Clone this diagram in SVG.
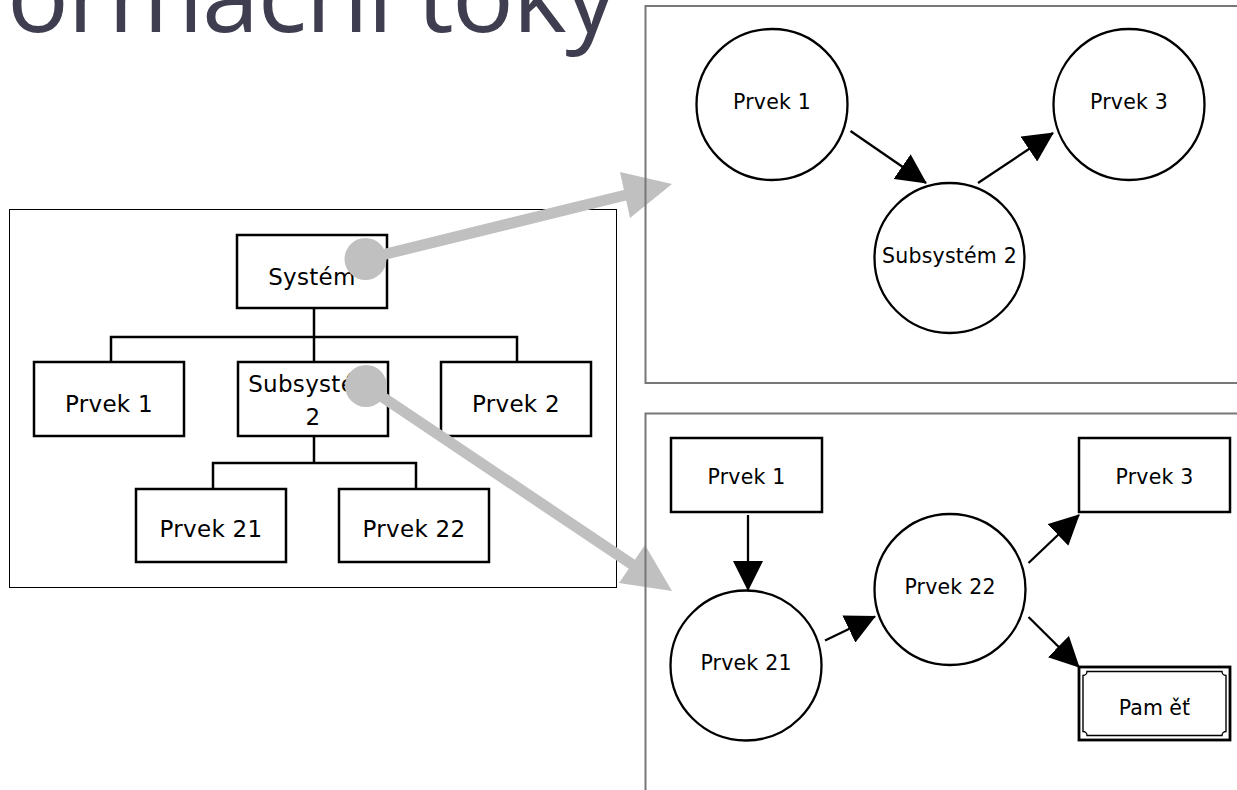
<svg xmlns="http://www.w3.org/2000/svg" width="1237" height="790" viewBox="0 0 1237 790">
<defs>
<style>
.box{fill:#fff;stroke:#000;stroke-width:2.5}
.circ{fill:#fff;stroke:#000;stroke-width:2.3}
.tl{font-family:"DejaVu Sans",Verdana,sans-serif;font-size:23px;fill:#000;text-anchor:middle;letter-spacing:0.3px}
.tr{font-family:"DejaVu Sans",Verdana,sans-serif;font-size:20.5px;fill:#000;text-anchor:middle;letter-spacing:0.2px}
.tree{fill:none;stroke:#000;stroke-width:2.5}
.arr{fill:none;stroke:#000;stroke-width:2.3}
.grey{fill:#c0c0c0;stroke:none}
.gline{stroke:#c0c0c0;stroke-width:11;fill:none}
.frameL{fill:none;stroke:#000;stroke-width:1}
.frameR{fill:none;stroke:#777;stroke-width:2}
</style>
<marker id="ah" markerUnits="userSpaceOnUse" markerWidth="30" markerHeight="30" refX="29" refY="15" orient="auto" viewBox="0 0 30 30">
<path d="M0,0 L30,15 L0,30 z" fill="#000"/>
</marker>
</defs>
<rect width="1237" height="790" fill="#fff"/>
<text x="7" y="32" font-family="'Open Sans',sans-serif" font-size="103" letter-spacing="-1.5" fill="#3e3e50">ormační toky</text>

<rect class="frameL" x="9.5" y="209.5" width="607" height="378"/>

<g id="tree-lines">
<path class="tree" d="M314,308 V337 M111,362 V337 H517 V362 M314,337 V362 M314,436 V463 M213,489 V463 H416 V489"/>
</g>
<g id="l-system"><rect class="box" x="237" y="235" width="150" height="73"/><text class="tl" x="312" y="285">Systém</text></g>
<g id="l-prvek1"><rect class="box" x="34" y="362" width="150" height="74"/><text class="tl" x="109" y="412">Prvek 1</text></g>
<g id="l-subsystem2"><rect class="box" x="238" y="362" width="150" height="74"/><text class="tl" x="313" y="392">Subsystém</text><text class="tl" x="313" y="425">2</text></g>
<g id="l-prvek2"><rect class="box" x="441" y="362" width="150" height="74"/><text class="tl" x="516" y="412">Prvek 2</text></g>
<g id="l-prvek21"><rect class="box" x="136" y="489" width="150" height="73"/><text class="tl" x="211" y="537">Prvek 21</text></g>
<g id="l-prvek22"><rect class="box" x="339" y="489" width="150" height="73"/><text class="tl" x="414" y="537">Prvek 22</text></g>

<g id="grey-arrows">
<circle class="grey" cx="365.5" cy="259" r="21"/>
<line class="gline" x1="365.5" y1="259" x2="626" y2="195"/>
<polygon class="grey" points="620,172 630,218 672,184"/>
<circle class="grey" cx="366" cy="386" r="21"/>
<line class="gline" x1="366" y1="386" x2="633" y2="565"/>
<polygon class="grey" points="645,545 619,583 672,591"/>
</g>

<rect class="frameR" x="645.5" y="6" width="600" height="377"/>
<path class="frameR" d="M645.5,800 V413.5 H1245"/>

<g id="t-prvek1"><circle class="circ" cx="772" cy="104.5" r="75.5"/><text class="tr" x="772" y="109">Prvek 1</text></g>
<g id="t-prvek3"><circle class="circ" cx="1129" cy="104.5" r="75.5"/><text class="tr" x="1129" y="109">Prvek 3</text></g>
<g id="t-subsystem2"><circle class="circ" cx="949.5" cy="258" r="75"/><text class="tr" x="949.5" y="263">Subsystém 2</text></g>

<g id="b-prvek1"><rect class="box" x="671" y="438" width="151" height="74"/><text class="tr" x="746.5" y="484">Prvek 1</text></g>
<g id="b-prvek3"><rect class="box" x="1079" y="438" width="151" height="74"/><text class="tr" x="1154.5" y="484">Prvek 3</text></g>
<g id="b-prvek21"><ellipse class="circ" cx="746" cy="665.5" rx="75.5" ry="75"/><text class="tr" x="746" y="670">Prvek 21</text></g>
<g id="b-prvek22"><circle class="circ" cx="950" cy="589.5" r="75.5"/><text class="tr" x="950" y="594">Prvek 22</text></g>
<g id="b-pamet">
<rect x="1079" y="667" width="151" height="73" fill="#fff" stroke="#000" stroke-width="2.8"/>
<path d="M1087,671.5 H1222 A4,4 0 0 0 1226,675.5 V731.5 A4,4 0 0 0 1222,735.5 H1087 A4,4 0 0 0 1083,731.5 V675.5 A4,4 0 0 0 1087,671.5 Z" fill="none" stroke="#000" stroke-width="1.4"/>
<text class="tr" x="1154.5" y="715" font-size="21.5">Pam<tspan dx="6">ěť</tspan></text>
</g>

<g id="connectors">
<line class="arr" x1="850.5" y1="131" x2="926" y2="183" marker-end="url(#ah)"/>
<line class="arr" x1="978" y1="183" x2="1053" y2="133" marker-end="url(#ah)"/>
<line class="arr" x1="748" y1="515" x2="748" y2="590" marker-end="url(#ah)"/>
<line class="arr" x1="825" y1="640.5" x2="875" y2="616.5" marker-end="url(#ah)"/>
<line class="arr" x1="1028.5" y1="563" x2="1079" y2="515" marker-end="url(#ah)"/>
<line class="arr" x1="1028.5" y1="617" x2="1079" y2="667" marker-end="url(#ah)"/>
</g>
</svg>
